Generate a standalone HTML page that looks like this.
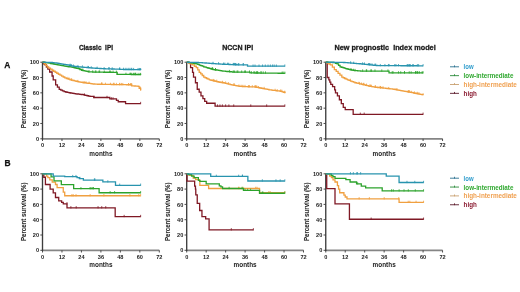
<!DOCTYPE html>
<html><head><meta charset="utf-8"><style>
html,body{margin:0;padding:0;background:#fff;}
svg{display:block;filter:blur(0.3px);}
text{font-family:"Liberation Sans", sans-serif;}
.tl{font-size:5.6px;font-weight:bold;fill:#222;}
.ml{font-size:6.4px;font-weight:bold;fill:#222;}
.yl{font-size:6.3px;font-weight:bold;fill:#2a2a2a;stroke:#2a2a2a;stroke-width:0.1px;}
.tt{font-size:7.5px;font-weight:bold;fill:#1a1a1a;stroke:#1a1a1a;stroke-width:0.3px;}
.pl{font-size:8.4px;font-weight:bold;fill:#111;stroke:#111;stroke-width:0.25px;}
.lg{font-size:6.4px;font-weight:bold;}
</style></head><body>
<svg width="520" height="292" viewBox="0 0 520 292">
<rect width="520" height="292" fill="#fff"/>
<path d="M41.90,138.80 H159.30" fill="none" stroke="#858585" stroke-width="1.7"/>
<path d="M42.50,61.90 V139.50" fill="none" stroke="#3e3e3e" stroke-width="1.35"/>
<path d="M42.50,138.80 h-2.2 M42.50,123.48 h-2.2 M42.50,108.16 h-2.2 M42.50,92.84 h-2.2 M42.50,77.52 h-2.2 M42.50,62.20 h-2.2 M42.50,138.80 v2.2 M61.97,138.80 v2.2 M81.43,138.80 v2.2 M100.90,138.80 v2.2 M120.37,138.80 v2.2 M139.83,138.80 v2.2 M159.30,138.80 v2.2" stroke="#3a3a3a" stroke-width="0.9"/>
<text x="39.10" y="140.90" class="tl" text-anchor="end">0</text>
<text x="39.10" y="125.58" class="tl" text-anchor="end">20</text>
<text x="39.10" y="110.26" class="tl" text-anchor="end">40</text>
<text x="39.10" y="94.94" class="tl" text-anchor="end">60</text>
<text x="39.10" y="79.62" class="tl" text-anchor="end">80</text>
<text x="39.10" y="64.30" class="tl" text-anchor="end">100</text>
<text x="42.50" y="147.00" class="tl" text-anchor="middle">0</text>
<text x="61.97" y="147.00" class="tl" text-anchor="middle">12</text>
<text x="81.43" y="147.00" class="tl" text-anchor="middle">24</text>
<text x="100.90" y="147.00" class="tl" text-anchor="middle">36</text>
<text x="120.37" y="147.00" class="tl" text-anchor="middle">48</text>
<text x="139.83" y="147.00" class="tl" text-anchor="middle">60</text>
<text x="159.30" y="147.00" class="tl" text-anchor="middle">72</text>
<text x="100.90" y="155.90" class="ml" text-anchor="middle">months</text>
<text transform="translate(25.60,98.90) rotate(-90)" class="yl" text-anchor="middle" textLength="58.6" lengthAdjust="spacingAndGlyphs">Percent survival (%)</text>
<path d="M42.50,62.20 L43.64,62.20 L43.64,63.73 L44.93,63.73 L44.93,64.88 L46.39,64.88 L46.39,66.99 L47.85,66.99 L47.85,69.09 L49.64,69.09 L49.64,72.00 L52.07,72.00 L52.07,75.99 L53.21,75.99 L53.21,79.82 L55.64,79.82 L55.64,84.80 L57.42,84.80 L57.42,87.09 L59.21,87.09 L59.21,89.39 L60.83,89.39 L60.83,90.16 L62.45,90.16 L62.45,90.93 L64.08,90.93 L64.08,91.69 L65.58,91.69 L65.58,92.02 L67.08,92.02 L67.08,92.34 L68.58,92.34 L68.58,92.67 L70.08,92.67 L70.08,92.99 L71.46,92.99 L71.46,93.20 L72.84,93.20 L72.84,93.41 L74.21,93.41 L74.21,93.63 L75.59,93.63 L75.59,93.84 L77.02,93.84 L77.02,94.00 L78.45,94.00 L78.45,94.17 L79.88,94.17 L79.88,94.34 L81.30,94.34 L81.30,94.51 L82.73,94.51 L82.73,94.68 L84.19,94.68 L84.19,95.03 L85.65,95.03 L85.65,95.38 L87.11,95.38 L87.11,95.74 L88.57,95.74 L88.57,96.09 L90.03,96.09 L90.03,96.44 L93.76,96.44 L93.76,96.44 L93.76,96.44 L93.76,97.51 L109.82,97.51 L109.82,97.51 L109.82,97.51 L109.82,98.89 L116.47,98.89 L116.47,98.89 L116.47,98.89 L116.47,100.42 L118.26,100.42 L118.26,100.42 L118.26,100.42 L118.26,101.73 L125.23,101.73 L125.23,101.73 L125.56,101.73 L125.56,103.56 L140.64,103.56 L140.64,103.56" fill="none" stroke="#7f1824" stroke-width="1.3"/><path d="M84.40,95.63 v-2.3 M107.00,98.11 v-2.3 M94.14,98.11 v-2.3 M111.41,99.49 v-2.3 M113.02,99.49 v-2.3 M140.64,104.16 v-2.3" stroke="#7f1824" stroke-width="0.8"/>
<path d="M42.50,62.20 L44.12,62.20 L44.12,63.73 L45.66,63.73 L45.66,65.46 L47.20,65.46 L47.20,67.18 L48.83,67.18 L48.83,68.20 L50.45,68.20 L50.45,69.22 L52.07,69.22 L52.07,70.24 L53.64,70.24 L53.64,71.24 L55.21,71.24 L55.21,72.23 L56.78,72.23 L56.78,73.23 L58.40,73.23 L58.40,74.23 L60.02,74.23 L60.02,75.22 L61.64,75.22 L61.64,76.22 L63.21,76.22 L63.21,77.01 L64.78,77.01 L64.78,77.80 L66.35,77.80 L66.35,78.59 L68.21,78.59 L68.21,79.21 L70.08,79.21 L70.08,79.82 L71.54,79.82 L71.54,80.17 L73.00,80.17 L73.00,80.52 L74.46,80.52 L74.46,80.88 L75.92,80.88 L75.92,81.23 L77.38,81.23 L77.38,81.58 L78.68,81.58 L78.68,81.81 L79.97,81.81 L79.97,82.04 L81.27,82.04 L81.27,82.27 L82.57,82.27 L82.57,82.50 L83.87,82.50 L83.87,82.73 L85.23,82.73 L85.23,82.91 L86.58,82.91 L86.58,83.09 L87.94,83.09 L87.94,83.27 L89.30,83.27 L89.30,83.46 L90.66,83.46 L90.66,83.64 L92.02,83.64 L92.02,83.82 L93.38,83.82 L93.38,84.00 L94.74,84.00 L94.74,84.18 L96.14,84.18 L96.14,84.21 L97.55,84.21 L97.55,84.24 L98.95,84.24 L98.95,84.26 L100.36,84.26 L100.36,84.29 L101.77,84.29 L101.77,84.31 L103.17,84.31 L103.17,84.34 L104.58,84.34 L104.58,84.36 L105.98,84.36 L105.98,84.39 L107.39,84.39 L107.39,84.41 L108.75,84.41 L108.75,84.44 L110.12,84.44 L110.12,84.46 L111.48,84.46 L111.48,84.48 L112.85,84.48 L112.85,84.50 L114.21,84.50 L114.21,84.53 L115.58,84.53 L115.58,84.55 L116.94,84.55 L116.94,84.57 L118.31,84.57 L118.31,84.59 L119.67,84.59 L119.67,84.62 L121.03,84.62 L121.03,84.64 L122.40,84.64 L122.40,84.66 L123.76,84.66 L123.76,84.68 L125.13,84.68 L125.13,84.71 L126.49,84.71 L126.49,84.73 L127.86,84.73 L127.86,84.75 L129.22,84.75 L129.22,84.77 L130.59,84.77 L130.59,84.80 L131.72,84.80 L131.72,85.79 L133.02,85.79 L133.02,85.90 L134.32,85.90 L134.32,86.01 L135.62,86.01 L135.62,86.11 L136.91,86.11 L136.91,86.22 L138.21,86.22 L138.21,86.33 L139.18,86.33 L139.18,88.24 L140.64,88.24 L140.64,90.16" fill="none" stroke="#f0a040" stroke-width="1.3"/><path d="M71.67,80.77 v-2.3 M67.81,79.19 v-2.3 M128.65,85.35 v-2.3 M85.98,83.51 v-2.3 M84.13,83.33 v-2.3 M140.32,88.84 v-2.3 M101.54,84.89 v-2.3 M128.57,85.35 v-2.3 M101.99,84.91 v-2.3 M114.00,85.10 v-2.3 M77.95,82.18 v-2.3 M113.69,85.10 v-2.3 M130.90,85.40 v-2.3 M105.45,84.96 v-2.3 M121.55,85.24 v-2.3 M116.39,85.15 v-2.3 M71.56,80.77 v-2.3 M122.80,85.26 v-2.3 M110.46,85.06 v-2.3 M89.07,83.87 v-2.3 M69.12,79.81 v-2.3 M130.72,85.40 v-2.3 M101.73,84.89 v-2.3 M119.89,85.22 v-2.3 M131.70,85.40 v-2.3 M119.54,85.19 v-2.3 M140.64,90.76 v-2.3" stroke="#f0a040" stroke-width="0.8"/>
<path d="M42.50,62.20 L44.12,62.20 L44.12,62.46 L45.74,62.46 L45.74,62.71 L47.37,62.71 L47.37,62.97 L48.99,62.97 L48.99,63.22 L50.61,63.22 L50.61,63.48 L52.23,63.48 L52.23,63.73 L53.62,63.73 L53.62,64.01 L55.01,64.01 L55.01,64.28 L56.40,64.28 L56.40,64.55 L57.80,64.55 L57.80,64.83 L59.19,64.83 L59.19,65.10 L60.58,65.10 L60.58,65.37 L61.97,65.37 L61.97,65.65 L63.33,65.65 L63.33,65.87 L64.68,65.87 L64.68,66.09 L66.04,66.09 L66.04,66.31 L67.40,66.31 L67.40,66.53 L68.76,66.53 L68.76,66.75 L70.12,66.75 L70.12,66.97 L71.48,66.97 L71.48,67.19 L72.84,67.19 L72.84,67.41 L74.17,67.41 L74.17,67.73 L75.51,67.73 L75.51,68.06 L76.85,68.06 L76.85,68.39 L78.19,68.39 L78.19,68.71 L79.89,68.71 L79.89,69.48 L81.60,69.48 L81.60,70.24 L82.93,70.24 L82.93,70.55 L84.26,70.55 L84.26,70.86 L85.59,70.86 L85.59,71.16 L86.92,71.16 L86.92,71.47 L88.25,71.47 L88.25,71.78 L89.79,71.78 L89.79,71.87 L91.33,71.87 L91.33,71.97 L92.87,71.97 L92.87,72.06 L94.41,72.06 L94.41,72.16 L95.73,72.16 L95.73,72.17 L97.05,72.17 L97.05,72.18 L98.37,72.18 L98.37,72.19 L99.68,72.19 L99.68,72.20 L101.00,72.20 L101.00,72.21 L102.32,72.21 L102.32,72.22 L103.64,72.22 L103.64,72.23 L104.96,72.23 L104.96,72.23 L106.27,72.23 L106.27,72.24 L107.59,72.24 L107.59,72.25 L108.91,72.25 L108.91,72.26 L110.23,72.26 L110.23,72.27 L111.55,72.27 L111.55,72.28 L112.86,72.28 L112.86,72.29 L114.18,72.29 L114.18,72.30 L115.50,72.30 L115.50,72.31 L117.12,72.31 L117.12,74.30 L118.43,74.30 L118.43,74.32 L119.74,74.32 L119.74,74.34 L121.04,74.34 L121.04,74.35 L122.35,74.35 L122.35,74.37 L123.66,74.37 L123.66,74.39 L124.96,74.39 L124.96,74.40 L126.27,74.40 L126.27,74.42 L127.58,74.42 L127.58,74.44 L128.88,74.44 L128.88,74.46 L130.19,74.46 L130.19,74.47 L131.50,74.47 L131.50,74.49 L132.80,74.49 L132.80,74.51 L134.11,74.51 L134.11,74.52 L135.42,74.52 L135.42,74.54 L136.72,74.54 L136.72,74.56 L138.03,74.56 L138.03,74.58 L139.34,74.58 L139.34,74.59 L140.64,74.59 L140.64,74.61" fill="none" stroke="#2ca32c" stroke-width="1.3"/><path d="M134.82,75.12 v-2.3 M95.99,72.77 v-2.3 M125.95,75.00 v-2.3 M99.65,72.79 v-2.3 M135.89,75.14 v-2.3 M131.70,75.09 v-2.3 M74.03,68.01 v-2.3 M76.87,68.99 v-2.3 M82.85,70.84 v-2.3 M138.10,75.18 v-2.3 M99.03,72.79 v-2.3 M113.09,72.89 v-2.3 M89.05,72.38 v-2.3 M104.27,72.83 v-2.3 M95.31,72.76 v-2.3 M92.73,72.57 v-2.3 M110.02,72.86 v-2.3 M109.96,72.86 v-2.3 M133.57,75.11 v-2.3 M117.17,74.90 v-2.3 M135.40,75.12 v-2.3 M130.05,75.06 v-2.3 M139.98,75.19 v-2.3 M116.38,72.91 v-2.3 M78.87,69.31 v-2.3 M130.36,75.07 v-2.3 M140.64,75.21 v-2.3" stroke="#2ca32c" stroke-width="0.8"/>
<path d="M42.50,62.20 L43.85,62.20 L43.85,62.24 L45.20,62.24 L45.20,62.28 L46.56,62.28 L46.56,62.31 L47.91,62.31 L47.91,62.35 L49.26,62.35 L49.26,62.39 L50.61,62.39 L50.61,62.43 L52.23,62.43 L52.23,62.61 L53.86,62.61 L53.86,62.79 L55.48,62.79 L55.48,62.97 L56.78,62.97 L56.78,63.18 L58.07,63.18 L58.07,63.39 L59.37,63.39 L59.37,63.61 L60.67,63.61 L60.67,63.82 L61.97,63.82 L61.97,64.04 L63.59,64.04 L63.59,64.32 L65.21,64.32 L65.21,64.60 L66.83,64.60 L66.83,64.88 L68.33,64.88 L68.33,65.21 L69.83,65.21 L69.83,65.53 L71.33,65.53 L71.33,65.86 L72.84,65.86 L72.84,66.18 L74.17,66.18 L74.17,66.34 L75.51,66.34 L75.51,66.49 L76.85,66.49 L76.85,66.64 L78.19,66.64 L78.19,66.80 L79.61,66.80 L79.61,66.93 L81.03,66.93 L81.03,67.06 L82.45,67.06 L82.45,67.20 L83.87,67.20 L83.87,67.33 L85.33,67.33 L85.33,67.45 L86.79,67.45 L86.79,67.58 L88.25,67.58 L88.25,67.70 L89.71,67.70 L89.71,67.82 L91.17,67.82 L91.17,67.95 L92.59,67.95 L92.59,68.04 L94.01,68.04 L94.01,68.14 L95.42,68.14 L95.42,68.23 L96.84,68.23 L96.84,68.33 L98.26,68.33 L98.26,68.42 L99.68,68.42 L99.68,68.52 L101.10,68.52 L101.10,68.62 L102.52,68.62 L102.52,68.71 L103.82,68.71 L103.82,68.75 L105.12,68.75 L105.12,68.79 L106.42,68.79 L106.42,68.83 L107.71,68.83 L107.71,68.86 L109.01,68.86 L109.01,68.90 L110.31,68.90 L110.31,68.94 L111.61,68.94 L111.61,68.98 L112.90,68.98 L112.90,69.02 L114.20,69.02 L114.20,69.06 L115.50,69.06 L115.50,69.09 L116.85,69.09 L116.85,69.16 L118.20,69.16 L118.20,69.22 L119.56,69.22 L119.56,69.29 L120.91,69.29 L120.91,69.35 L122.26,69.35 L122.26,69.41 L123.61,69.41 L123.61,69.48 L124.92,69.48 L124.92,69.49 L126.23,69.49 L126.23,69.51 L127.54,69.51 L127.54,69.53 L128.85,69.53 L128.85,69.55 L130.16,69.55 L130.16,69.57 L131.47,69.57 L131.47,69.58 L132.78,69.58 L132.78,69.60 L134.09,69.60 L134.09,69.62 L135.40,69.62 L135.40,69.64 L136.71,69.64 L136.71,69.65 L138.02,69.65 L138.02,69.67 L139.33,69.67 L139.33,69.69 L140.64,69.69 L140.64,69.71" fill="none" stroke="#2894ae" stroke-width="1.3"/><path d="M138.03,70.27 v-2.3 M133.61,70.20 v-2.3 M108.84,69.46 v-2.3 M119.52,69.82 v-2.3 M82.42,67.66 v-2.3 M128.22,70.13 v-2.3 M109.17,69.50 v-2.3 M87.87,68.18 v-2.3 M71.52,66.46 v-2.3 M129.86,70.15 v-2.3 M139.89,70.29 v-2.3 M73.37,66.78 v-2.3 M125.93,70.09 v-2.3 M97.13,68.93 v-2.3 M77.96,67.24 v-2.3 M88.53,68.30 v-2.3 M123.58,70.01 v-2.3 M131.25,70.17 v-2.3 M70.10,66.13 v-2.3 M112.19,69.58 v-2.3 M70.15,66.13 v-2.3 M119.86,69.89 v-2.3 M91.26,68.55 v-2.3 M131.85,70.18 v-2.3 M139.22,70.27 v-2.3 M104.14,69.35 v-2.3 M140.64,70.31 v-2.3" stroke="#2894ae" stroke-width="0.8"/>
<path d="M186.10,138.80 H303.50" fill="none" stroke="#858585" stroke-width="1.7"/>
<path d="M186.70,61.90 V139.50" fill="none" stroke="#3e3e3e" stroke-width="1.35"/>
<path d="M186.70,138.80 h-2.2 M186.70,123.48 h-2.2 M186.70,108.16 h-2.2 M186.70,92.84 h-2.2 M186.70,77.52 h-2.2 M186.70,62.20 h-2.2 M186.70,138.80 v2.2 M206.17,138.80 v2.2 M225.63,138.80 v2.2 M245.10,138.80 v2.2 M264.57,138.80 v2.2 M284.03,138.80 v2.2 M303.50,138.80 v2.2" stroke="#3a3a3a" stroke-width="0.9"/>
<text x="183.30" y="140.90" class="tl" text-anchor="end">0</text>
<text x="183.30" y="125.58" class="tl" text-anchor="end">20</text>
<text x="183.30" y="110.26" class="tl" text-anchor="end">40</text>
<text x="183.30" y="94.94" class="tl" text-anchor="end">60</text>
<text x="183.30" y="79.62" class="tl" text-anchor="end">80</text>
<text x="183.30" y="64.30" class="tl" text-anchor="end">100</text>
<text x="186.70" y="147.00" class="tl" text-anchor="middle">0</text>
<text x="206.17" y="147.00" class="tl" text-anchor="middle">12</text>
<text x="225.63" y="147.00" class="tl" text-anchor="middle">24</text>
<text x="245.10" y="147.00" class="tl" text-anchor="middle">36</text>
<text x="264.57" y="147.00" class="tl" text-anchor="middle">48</text>
<text x="284.03" y="147.00" class="tl" text-anchor="middle">60</text>
<text x="303.50" y="147.00" class="tl" text-anchor="middle">72</text>
<text x="245.10" y="155.90" class="ml" text-anchor="middle">months</text>
<text transform="translate(169.80,98.90) rotate(-90)" class="yl" text-anchor="middle" textLength="58.6" lengthAdjust="spacingAndGlyphs">Percent survival (%)</text>
<path d="M186.70,62.20 L188.81,62.20 L188.81,62.97 L190.59,62.97 L190.59,67.64 L192.54,67.64 L192.54,72.31 L193.51,72.31 L193.51,77.06 L195.46,77.06 L195.46,82.73 L197.24,82.73 L197.24,89.24 L199.19,89.24 L199.19,92.07 L200.98,92.07 L200.98,95.83 L202.92,95.83 L202.92,98.59 L204.71,98.59 L204.71,101.42 L206.65,101.42 L206.65,103.26 L213.14,103.26 L213.14,103.26 L215.09,103.26 L215.09,106.09 L284.84,106.09 L284.84,106.09" fill="none" stroke="#7f1824" stroke-width="1.3"/><path d="M217.52,106.69 v-2.3 M219.96,106.69 v-2.3 M222.39,106.69 v-2.3 M225.63,106.69 v-2.3 M228.88,106.69 v-2.3 M233.74,106.69 v-2.3 M250.78,106.69 v-2.3 M266.68,106.69 v-2.3 M284.84,106.69 v-2.3" stroke="#7f1824" stroke-width="0.8"/>
<path d="M186.70,62.20 L188.16,62.20 L188.16,62.87 L189.62,62.87 L189.62,63.54 L191.08,63.54 L191.08,64.21 L192.54,64.21 L192.54,64.88 L194.41,64.88 L194.41,66.26 L196.27,66.26 L196.27,67.64 L197.73,67.64 L197.73,69.97 L199.19,69.97 L199.19,72.31 L200.71,72.31 L200.71,73.89 L202.22,73.89 L202.22,75.48 L203.73,75.48 L203.73,77.06 L205.15,77.06 L205.15,77.77 L206.57,77.77 L206.57,78.48 L207.99,78.48 L207.99,79.19 L209.41,79.19 L209.41,79.89 L210.94,79.89 L210.94,80.26 L212.46,80.26 L212.46,80.63 L213.99,80.63 L213.99,81.00 L215.51,81.00 L215.51,81.37 L217.04,81.37 L217.04,81.73 L218.45,81.73 L218.45,81.98 L219.87,81.98 L219.87,82.23 L221.29,82.23 L221.29,82.48 L222.71,82.48 L222.71,82.73 L224.21,82.73 L224.21,83.10 L225.70,83.10 L225.70,83.46 L227.19,83.46 L227.19,83.83 L228.68,83.83 L228.68,84.20 L230.18,84.20 L230.18,84.57 L231.52,84.57 L231.52,84.83 L232.86,84.83 L232.86,85.09 L234.21,85.09 L234.21,85.36 L235.55,85.36 L235.55,85.62 L236.90,85.62 L236.90,85.88 L238.24,85.88 L238.24,86.14 L239.58,86.14 L239.58,86.41 L241.01,86.41 L241.01,86.46 L242.44,86.46 L242.44,86.51 L243.87,86.51 L243.87,86.57 L245.29,86.57 L245.29,86.62 L246.72,86.62 L246.72,86.67 L248.15,86.67 L248.15,86.73 L249.58,86.73 L249.58,86.78 L251.00,86.78 L251.00,86.83 L252.43,86.83 L252.43,86.89 L253.86,86.89 L253.86,86.94 L255.35,86.94 L255.35,87.20 L256.84,87.20 L256.84,87.46 L258.34,87.46 L258.34,87.72 L259.83,87.72 L259.83,87.98 L261.32,87.98 L261.32,88.24 L262.85,88.24 L262.85,88.55 L264.37,88.55 L264.37,88.86 L265.90,88.86 L265.90,89.16 L267.42,89.16 L267.42,89.47 L268.95,89.47 L268.95,89.78 L270.26,89.78 L270.26,89.95 L271.58,89.95 L271.58,90.12 L272.89,90.12 L272.89,90.29 L274.21,90.29 L274.21,90.46 L275.53,90.46 L275.53,90.63 L276.84,90.63 L276.84,90.80 L278.16,90.80 L278.16,90.97 L279.47,90.97 L279.47,91.14 L280.79,91.14 L280.79,91.31 L282.14,91.31 L282.14,91.84 L283.49,91.84 L283.49,92.38 L284.84,92.38 L284.84,92.92" fill="none" stroke="#f0a040" stroke-width="1.3"/><path d="M284.73,92.98 v-2.3 M233.89,85.69 v-2.3 M216.71,81.97 v-2.3 M255.30,87.54 v-2.3 M213.35,81.23 v-2.3 M225.60,83.70 v-2.3 M241.14,87.06 v-2.3 M256.09,87.80 v-2.3 M222.56,83.08 v-2.3 M214.17,81.60 v-2.3 M275.09,91.06 v-2.3 M234.20,85.69 v-2.3 M281.79,91.91 v-2.3 M277.22,91.40 v-2.3 M238.92,86.74 v-2.3 M245.02,87.17 v-2.3 M249.42,87.33 v-2.3 M258.56,88.32 v-2.3 M255.00,87.54 v-2.3 M252.31,87.43 v-2.3 M256.81,87.80 v-2.3 M280.46,91.74 v-2.3 M248.46,87.33 v-2.3 M242.86,87.11 v-2.3 M264.20,89.15 v-2.3 M228.57,84.43 v-2.3 M284.84,93.52 v-2.3" stroke="#f0a040" stroke-width="0.8"/>
<path d="M186.70,62.20 L188.07,62.20 L188.07,62.44 L189.43,62.44 L189.43,62.68 L190.80,62.68 L190.80,62.92 L192.17,62.92 L192.17,63.16 L193.54,63.16 L193.54,63.40 L194.90,63.40 L194.90,63.64 L196.27,63.64 L196.27,63.89 L197.76,63.89 L197.76,64.47 L199.26,64.47 L199.26,65.05 L200.75,65.05 L200.75,65.63 L202.24,65.63 L202.24,66.21 L203.73,66.21 L203.73,66.80 L205.08,66.80 L205.08,67.19 L206.42,67.19 L206.42,67.58 L207.77,67.58 L207.77,67.98 L209.11,67.98 L209.11,68.37 L210.45,68.37 L210.45,68.77 L211.80,68.77 L211.80,69.16 L213.14,69.16 L213.14,69.55 L214.51,69.55 L214.51,69.77 L215.88,69.77 L215.88,69.99 L217.24,69.99 L217.24,70.21 L218.61,70.21 L218.61,70.43 L219.98,70.43 L219.98,70.65 L221.35,70.65 L221.35,70.87 L222.71,70.87 L222.71,71.09 L224.13,71.09 L224.13,71.22 L225.55,71.22 L225.55,71.35 L226.97,71.35 L226.97,71.49 L228.39,71.49 L228.39,71.62 L229.81,71.62 L229.81,71.76 L231.23,71.76 L231.23,71.89 L232.65,71.89 L232.65,72.02 L234.07,72.02 L234.07,72.16 L249.16,72.16 L249.16,72.16 L249.97,72.16 L249.97,72.92 L251.31,72.92 L251.31,72.94 L252.65,72.94 L252.65,72.95 L253.99,72.95 L253.99,72.97 L255.33,72.97 L255.33,72.98 L256.67,72.98 L256.67,73.00 L258.02,73.00 L258.02,73.01 L259.36,73.01 L259.36,73.03 L260.70,73.03 L260.70,73.04 L262.04,73.04 L262.04,73.06 L263.38,73.06 L263.38,73.07 L264.72,73.07 L264.72,73.09 L266.06,73.09 L266.06,73.10 L267.41,73.10 L267.41,73.12 L268.75,73.12 L268.75,73.13 L270.09,73.13 L270.09,73.14 L271.43,73.14 L271.43,73.16 L272.77,73.16 L272.77,73.17 L274.11,73.17 L274.11,73.19 L275.45,73.19 L275.45,73.20 L276.80,73.20 L276.80,73.22 L278.14,73.22 L278.14,73.23 L279.48,73.23 L279.48,73.25 L280.82,73.25 L280.82,73.26 L282.16,73.26 L282.16,73.28 L283.50,73.28 L283.50,73.29 L284.84,73.29 L284.84,73.31" fill="none" stroke="#2ca32c" stroke-width="1.3"/><path d="M233.26,72.62 v-2.3 M283.21,73.88 v-2.3 M249.50,72.76 v-2.3 M251.51,73.54 v-2.3 M211.88,69.76 v-2.3 M241.68,72.76 v-2.3 M253.84,73.55 v-2.3 M212.51,69.76 v-2.3 M256.49,73.58 v-2.3 M257.70,73.60 v-2.3 M215.47,70.37 v-2.3 M257.34,73.60 v-2.3 M245.45,72.76 v-2.3 M261.17,73.64 v-2.3 M237.06,72.76 v-2.3 M263.21,73.66 v-2.3 M265.51,73.69 v-2.3 M212.67,69.76 v-2.3 M215.50,70.37 v-2.3 M260.93,73.64 v-2.3 M282.14,73.86 v-2.3 M229.57,72.22 v-2.3 M244.71,72.76 v-2.3 M254.78,73.57 v-2.3 M234.65,72.76 v-2.3 M237.90,72.76 v-2.3 M284.84,73.91 v-2.3" stroke="#2ca32c" stroke-width="0.8"/>
<path d="M186.70,62.20 L188.00,62.20 L188.00,62.24 L189.30,62.24 L189.30,62.28 L190.59,62.28 L190.59,62.31 L191.89,62.31 L191.89,62.35 L193.19,62.35 L193.19,62.39 L194.49,62.39 L194.49,62.43 L195.78,62.43 L195.78,62.47 L197.08,62.47 L197.08,62.51 L198.38,62.51 L198.38,62.54 L199.68,62.54 L199.68,62.58 L201.02,62.58 L201.02,62.68 L202.37,62.68 L202.37,62.78 L203.72,62.78 L203.72,62.88 L205.06,62.88 L205.06,62.98 L206.41,62.98 L206.41,63.08 L207.76,63.08 L207.76,63.18 L209.10,63.18 L209.10,63.28 L210.45,63.28 L210.45,63.38 L211.80,63.38 L211.80,63.48 L213.14,63.48 L213.14,63.58 L214.51,63.58 L214.51,63.68 L215.88,63.68 L215.88,63.78 L217.24,63.78 L217.24,63.87 L218.61,63.87 L218.61,63.97 L219.98,63.97 L219.98,64.07 L221.35,64.07 L221.35,64.17 L222.71,64.17 L222.71,64.27 L224.01,64.27 L224.01,64.32 L225.31,64.32 L225.31,64.36 L226.61,64.36 L226.61,64.41 L227.90,64.41 L227.90,64.46 L229.20,64.46 L229.20,64.50 L230.50,64.50 L230.50,64.55 L231.80,64.55 L231.80,64.60 L233.10,64.60 L233.10,64.65 L234.39,64.65 L234.39,64.69 L235.69,64.69 L235.69,64.74 L236.99,64.74 L236.99,64.79 L238.29,64.79 L238.29,64.83 L239.58,64.83 L239.58,64.88 L247.21,64.88 L247.21,64.88 L247.53,64.88 L247.53,66.18 L284.84,66.18 L284.84,66.18" fill="none" stroke="#2894ae" stroke-width="1.3"/><path d="M234.11,65.25 v-2.3 M238.28,65.39 v-2.3 M255.00,66.78 v-2.3 M233.21,65.25 v-2.3 M238.87,65.43 v-2.3 M268.04,66.78 v-2.3 M213.02,64.08 v-2.3 M253.05,66.78 v-2.3 M265.30,66.78 v-2.3 M233.92,65.25 v-2.3 M227.46,65.01 v-2.3 M270.36,66.78 v-2.3 M228.65,65.06 v-2.3 M224.87,64.92 v-2.3 M243.16,65.48 v-2.3 M262.56,66.78 v-2.3 M218.55,64.47 v-2.3 M234.80,65.29 v-2.3 M235.67,65.29 v-2.3 M272.56,66.78 v-2.3 M243.39,65.48 v-2.3 M274.18,66.78 v-2.3 M223.53,64.87 v-2.3 M235.89,65.34 v-2.3 M259.03,66.78 v-2.3 M276.35,66.78 v-2.3 M284.84,66.78 v-2.3" stroke="#2894ae" stroke-width="0.8"/>
<path d="M325.15,138.80 H442.55" fill="none" stroke="#858585" stroke-width="1.7"/>
<path d="M325.75,61.90 V139.50" fill="none" stroke="#3e3e3e" stroke-width="1.35"/>
<path d="M325.75,138.80 h-2.2 M325.75,123.48 h-2.2 M325.75,108.16 h-2.2 M325.75,92.84 h-2.2 M325.75,77.52 h-2.2 M325.75,62.20 h-2.2 M325.75,138.80 v2.2 M345.22,138.80 v2.2 M364.68,138.80 v2.2 M384.15,138.80 v2.2 M403.62,138.80 v2.2 M423.08,138.80 v2.2 M442.55,138.80 v2.2" stroke="#3a3a3a" stroke-width="0.9"/>
<text x="322.35" y="140.90" class="tl" text-anchor="end">0</text>
<text x="322.35" y="125.58" class="tl" text-anchor="end">20</text>
<text x="322.35" y="110.26" class="tl" text-anchor="end">40</text>
<text x="322.35" y="94.94" class="tl" text-anchor="end">60</text>
<text x="322.35" y="79.62" class="tl" text-anchor="end">80</text>
<text x="322.35" y="64.30" class="tl" text-anchor="end">100</text>
<text x="325.75" y="147.00" class="tl" text-anchor="middle">0</text>
<text x="345.22" y="147.00" class="tl" text-anchor="middle">12</text>
<text x="364.68" y="147.00" class="tl" text-anchor="middle">24</text>
<text x="384.15" y="147.00" class="tl" text-anchor="middle">36</text>
<text x="403.62" y="147.00" class="tl" text-anchor="middle">48</text>
<text x="423.08" y="147.00" class="tl" text-anchor="middle">60</text>
<text x="442.55" y="147.00" class="tl" text-anchor="middle">72</text>
<text x="384.15" y="155.90" class="ml" text-anchor="middle">months</text>
<text transform="translate(308.85,98.90) rotate(-90)" class="yl" text-anchor="middle" textLength="58.6" lengthAdjust="spacingAndGlyphs">Percent survival (%)</text>
<path d="M325.75,62.20 L327.21,62.20 L327.21,62.20 L327.21,62.20 L327.21,77.52 L328.83,77.52 L328.83,77.52 L328.83,77.52 L328.83,79.82 L329.81,79.82 L329.81,79.82 L329.81,79.82 L329.81,82.12 L330.78,82.12 L330.78,82.12 L330.78,82.12 L330.78,84.41 L332.56,84.41 L332.56,84.41 L332.56,84.41 L332.56,86.71 L334.67,86.71 L334.67,86.71 L334.67,86.71 L334.67,89.78 L335.48,89.78 L335.48,89.78 L335.48,89.78 L335.48,92.84 L337.43,92.84 L337.43,92.84 L337.43,92.84 L337.43,95.90 L339.38,95.90 L339.38,95.90 L339.38,95.90 L339.38,99.73 L341.32,99.73 L341.32,99.73 L341.32,99.73 L341.32,103.56 L343.27,103.56 L343.27,103.56 L343.27,103.56 L343.27,107.39 L345.22,107.39 L345.22,107.39 L345.22,107.39 L345.22,109.69 L353.17,109.69 L353.17,109.69 L353.17,109.69 L353.17,114.29 L423.08,114.29 L423.08,114.29" fill="none" stroke="#7f1824" stroke-width="1.3"/><path d="M360.30,114.89 v-2.3 M364.20,114.89 v-2.3 M423.08,114.89 v-2.3" stroke="#7f1824" stroke-width="0.8"/>
<path d="M325.75,62.20 L327.32,62.20 L327.32,63.09 L328.89,63.09 L328.89,63.99 L330.45,63.99 L330.45,64.88 L332.40,64.88 L332.40,67.22 L334.35,67.22 L334.35,69.55 L336.21,69.55 L336.21,71.43 L338.08,71.43 L338.08,73.31 L339.94,73.31 L339.94,75.18 L341.81,75.18 L341.81,77.06 L343.23,77.06 L343.23,77.77 L344.65,77.77 L344.65,78.48 L346.07,78.48 L346.07,79.19 L347.49,79.19 L347.49,79.89 L348.98,79.89 L348.98,80.46 L350.47,80.46 L350.47,81.03 L351.97,81.03 L351.97,81.60 L353.46,81.60 L353.46,82.16 L354.95,82.16 L354.95,82.73 L356.47,82.73 L356.47,83.10 L358.00,83.10 L358.00,83.46 L359.52,83.46 L359.52,83.83 L361.05,83.83 L361.05,84.20 L362.57,84.20 L362.57,84.57 L364.07,84.57 L364.07,84.93 L365.56,84.93 L365.56,85.30 L367.05,85.30 L367.05,85.67 L368.54,85.67 L368.54,86.04 L370.04,86.04 L370.04,86.41 L371.56,86.41 L371.56,86.62 L373.09,86.62 L373.09,86.83 L374.61,86.83 L374.61,87.05 L376.14,87.05 L376.14,87.26 L377.66,87.26 L377.66,87.48 L379.01,87.48 L379.01,87.62 L380.36,87.62 L380.36,87.77 L381.72,87.77 L381.72,87.92 L383.07,87.92 L383.07,88.07 L384.42,88.07 L384.42,88.21 L385.77,88.21 L385.77,88.36 L387.12,88.36 L387.12,88.51 L388.48,88.51 L388.48,88.65 L389.83,88.65 L389.83,88.80 L391.18,88.80 L391.18,88.95 L392.53,88.95 L392.53,89.09 L393.88,89.09 L393.88,89.24 L395.23,89.24 L395.23,89.51 L396.57,89.51 L396.57,89.79 L397.92,89.79 L397.92,90.06 L399.26,90.06 L399.26,90.33 L400.60,90.33 L400.60,90.61 L401.95,90.61 L401.95,90.88 L403.29,90.88 L403.29,91.15 L404.78,91.15 L404.78,91.42 L406.28,91.42 L406.28,91.68 L407.77,91.68 L407.77,91.94 L409.26,91.94 L409.26,92.20 L410.75,92.20 L410.75,92.46 L412.12,92.46 L412.12,92.72 L413.49,92.72 L413.49,92.98 L414.86,92.98 L414.86,93.25 L416.23,93.25 L416.23,93.51 L417.60,93.51 L417.60,93.78 L418.97,93.78 L418.97,94.04 L420.34,94.04 L420.34,94.30 L421.71,94.30 L421.71,94.57 L423.08,94.57 L423.08,94.83" fill="none" stroke="#f0a040" stroke-width="1.3"/><path d="M383.01,88.52 v-2.3 M366.51,85.90 v-2.3 M358.91,84.06 v-2.3 M388.75,89.25 v-2.3 M364.01,85.17 v-2.3 M408.98,92.54 v-2.3 M411.29,93.06 v-2.3 M363.49,85.17 v-2.3 M370.42,87.01 v-2.3 M409.01,92.54 v-2.3 M396.94,90.39 v-2.3 M408.94,92.54 v-2.3 M375.29,87.65 v-2.3 M359.55,84.43 v-2.3 M371.40,87.01 v-2.3 M408.04,92.54 v-2.3 M369.88,86.64 v-2.3 M375.37,87.65 v-2.3 M380.52,88.37 v-2.3 M380.73,88.37 v-2.3 M379.98,88.22 v-2.3 M417.29,94.11 v-2.3 M361.47,84.80 v-2.3 M350.42,81.06 v-2.3 M418.94,94.38 v-2.3 M414.32,93.58 v-2.3 M423.08,95.43 v-2.3" stroke="#f0a040" stroke-width="0.8"/>
<path d="M325.75,62.20 L327.10,62.20 L327.10,62.26 L328.45,62.26 L328.45,62.33 L329.81,62.33 L329.81,62.39 L331.16,62.39 L331.16,62.46 L332.51,62.46 L332.51,62.52 L333.86,62.52 L333.86,62.58 L335.48,62.58 L335.48,63.23 L337.11,63.23 L337.11,63.89 L338.57,63.89 L338.57,65.34 L340.03,65.34 L340.03,66.80 L341.40,66.80 L341.40,67.26 L342.78,67.26 L342.78,67.72 L344.16,67.72 L344.16,68.17 L345.54,68.17 L345.54,68.63 L347.07,68.63 L347.07,69.00 L348.59,69.00 L348.59,69.37 L350.12,69.37 L350.12,69.74 L351.64,69.74 L351.64,70.11 L353.17,70.11 L353.17,70.47 L354.66,70.47 L354.66,70.60 L356.15,70.60 L356.15,70.72 L357.64,70.72 L357.64,70.84 L359.14,70.84 L359.14,70.96 L360.63,70.96 L360.63,71.09 L388.21,71.09 L388.21,71.09 L389.02,71.09 L389.02,72.92 L423.08,72.92 L423.08,72.92" fill="none" stroke="#2ca32c" stroke-width="1.3"/><path d="M422.13,73.52 v-2.3 M381.79,71.69 v-2.3 M419.45,73.52 v-2.3 M417.78,73.52 v-2.3 M366.30,71.69 v-2.3 M404.51,73.52 v-2.3 M411.16,73.52 v-2.3 M398.48,73.52 v-2.3 M387.97,71.69 v-2.3 M371.18,71.69 v-2.3 M374.98,71.69 v-2.3 M366.69,71.69 v-2.3 M355.05,71.20 v-2.3 M393.06,73.52 v-2.3 M371.04,71.69 v-2.3 M409.23,73.52 v-2.3 M353.37,71.07 v-2.3 M416.05,73.52 v-2.3 M400.72,73.52 v-2.3 M417.52,73.52 v-2.3 M415.53,73.52 v-2.3 M415.76,73.52 v-2.3 M392.20,73.52 v-2.3 M351.04,70.34 v-2.3 M404.49,73.52 v-2.3 M362.63,71.69 v-2.3 M423.08,73.52 v-2.3" stroke="#2ca32c" stroke-width="0.8"/>
<path d="M325.75,62.20 L327.10,62.20 L327.10,62.21 L328.45,62.21 L328.45,62.23 L329.81,62.23 L329.81,62.24 L331.16,62.24 L331.16,62.25 L332.51,62.25 L332.51,62.26 L333.86,62.26 L333.86,62.28 L335.21,62.28 L335.21,62.29 L336.56,62.29 L336.56,62.30 L337.92,62.30 L337.92,62.31 L339.27,62.31 L339.27,62.33 L340.62,62.33 L340.62,62.34 L341.97,62.34 L341.97,62.35 L343.46,62.35 L343.46,62.48 L344.96,62.48 L344.96,62.60 L346.45,62.60 L346.45,62.72 L347.94,62.72 L347.94,62.84 L349.43,62.84 L349.43,62.97 L350.83,62.97 L350.83,63.08 L352.23,63.08 L352.23,63.20 L353.63,63.20 L353.63,63.31 L355.03,63.31 L355.03,63.43 L356.43,63.43 L356.43,63.54 L357.83,63.54 L357.83,63.66 L359.23,63.66 L359.23,63.77 L360.63,63.77 L360.63,63.89 L361.94,63.89 L361.94,64.02 L363.25,64.02 L363.25,64.16 L364.56,64.16 L364.56,64.29 L365.87,64.29 L365.87,64.43 L367.18,64.43 L367.18,64.56 L368.49,64.56 L368.49,64.70 L369.80,64.70 L369.80,64.83 L371.11,64.83 L371.11,64.97 L372.42,64.97 L372.42,65.10 L373.73,65.10 L373.73,65.24 L375.04,65.24 L375.04,65.38 L376.35,65.38 L376.35,65.51 L377.66,65.51 L377.66,65.65 L378.96,65.65 L378.96,65.65 L380.26,65.65 L380.26,65.66 L381.55,65.66 L381.55,65.66 L382.85,65.66 L382.85,65.66 L384.15,65.66 L384.15,65.67 L385.45,65.67 L385.45,65.67 L386.75,65.67 L386.75,65.68 L388.04,65.68 L388.04,65.68 L389.34,65.68 L389.34,65.69 L390.64,65.69 L390.64,65.69 L391.94,65.69 L391.94,65.70 L393.23,65.70 L393.23,65.70 L394.53,65.70 L394.53,65.70 L395.83,65.70 L395.83,65.71 L397.13,65.71 L397.13,65.71 L398.43,65.71 L398.43,65.72 L399.72,65.72 L399.72,65.72 L401.02,65.72 L401.02,65.73 L402.32,65.73 L402.32,65.73 L403.62,65.73 L403.62,65.73 L404.91,65.73 L404.91,65.74 L406.21,65.74 L406.21,65.74 L407.51,65.74 L407.51,65.75 L408.81,65.75 L408.81,65.75 L410.11,65.75 L410.11,65.76 L411.40,65.76 L411.40,65.76 L412.70,65.76 L412.70,65.77 L414.00,65.77 L414.00,65.77 L415.30,65.77 L415.30,65.77 L416.59,65.77 L416.59,65.78 L417.89,65.78 L417.89,65.78 L419.19,65.78 L419.19,65.79 L420.49,65.79 L420.49,65.79 L421.79,65.79 L421.79,65.80 L423.08,65.80 L423.08,65.80" fill="none" stroke="#2894ae" stroke-width="1.3"/><path d="M371.98,65.57 v-2.3 M398.47,66.32 v-2.3 M388.41,66.28 v-2.3 M380.29,66.26 v-2.3 M418.63,66.38 v-2.3 M394.77,66.30 v-2.3 M375.00,65.84 v-2.3 M368.51,65.30 v-2.3 M412.98,66.37 v-2.3 M384.92,66.27 v-2.3 M407.19,66.34 v-2.3 M375.77,65.98 v-2.3 M364.49,64.76 v-2.3 M389.11,66.28 v-2.3 M409.71,66.35 v-2.3 M362.59,64.62 v-2.3 M407.88,66.35 v-2.3 M417.37,66.38 v-2.3 M408.93,66.35 v-2.3 M410.20,66.36 v-2.3 M350.63,63.57 v-2.3 M395.97,66.31 v-2.3 M413.05,66.37 v-2.3 M353.73,63.91 v-2.3 M369.90,65.43 v-2.3 M369.69,65.30 v-2.3 M423.08,66.40 v-2.3" stroke="#2894ae" stroke-width="0.8"/>
<path d="M41.90,250.30 H159.30" fill="none" stroke="#858585" stroke-width="1.7"/>
<path d="M42.50,173.50 V251.00" fill="none" stroke="#3e3e3e" stroke-width="1.35"/>
<path d="M42.50,250.30 h-2.2 M42.50,235.00 h-2.2 M42.50,219.70 h-2.2 M42.50,204.40 h-2.2 M42.50,189.10 h-2.2 M42.50,173.80 h-2.2 M42.50,250.30 v2.2 M61.97,250.30 v2.2 M81.43,250.30 v2.2 M100.90,250.30 v2.2 M120.37,250.30 v2.2 M139.83,250.30 v2.2 M159.30,250.30 v2.2" stroke="#3a3a3a" stroke-width="0.9"/>
<text x="39.10" y="252.40" class="tl" text-anchor="end">0</text>
<text x="39.10" y="237.10" class="tl" text-anchor="end">20</text>
<text x="39.10" y="221.80" class="tl" text-anchor="end">40</text>
<text x="39.10" y="206.50" class="tl" text-anchor="end">60</text>
<text x="39.10" y="191.20" class="tl" text-anchor="end">80</text>
<text x="39.10" y="175.90" class="tl" text-anchor="end">100</text>
<text x="42.50" y="258.50" class="tl" text-anchor="middle">0</text>
<text x="61.97" y="258.50" class="tl" text-anchor="middle">12</text>
<text x="81.43" y="258.50" class="tl" text-anchor="middle">24</text>
<text x="100.90" y="258.50" class="tl" text-anchor="middle">36</text>
<text x="120.37" y="258.50" class="tl" text-anchor="middle">48</text>
<text x="139.83" y="258.50" class="tl" text-anchor="middle">60</text>
<text x="159.30" y="258.50" class="tl" text-anchor="middle">72</text>
<text x="100.90" y="266.80" class="ml" text-anchor="middle">months</text>
<text transform="translate(25.60,211.80) rotate(-90)" class="yl" text-anchor="middle" textLength="58.6" lengthAdjust="spacingAndGlyphs">Percent survival (%)</text>
<path d="M42.50,173.80 L43.80,173.80 L43.80,173.80 L43.80,173.80 L43.80,177.24 L45.42,177.24 L45.42,177.24 L45.42,177.24 L45.42,184.51 L49.31,184.51 L49.31,184.51 L50.12,184.51 L50.12,189.10 L52.40,189.10 L52.40,189.10 L53.21,189.10 L53.21,192.93 L54.67,192.93 L54.67,192.93 L55.48,192.93 L55.48,197.52 L58.07,197.52 L58.07,197.52 L58.72,197.52 L58.72,200.80 L60.99,200.80 L60.99,200.80 L61.64,200.80 L61.64,202.33 L62.94,202.33 L62.94,202.33 L63.26,202.33 L63.26,203.79 L66.51,203.79 L66.51,203.79 L67.00,203.79 L67.00,207.84 L115.18,207.84 L115.18,207.84 L115.18,207.84 L115.18,216.56 L140.64,216.56 L140.64,216.56" fill="none" stroke="#7f1824" stroke-width="1.3"/><path d="M105.75,208.44 v-2.3 M98.05,208.44 v-2.3 M101.74,208.44 v-2.3 M124.15,217.16 v-2.3 M66.97,204.39 v-2.3 M70.88,208.44 v-2.3 M76.20,208.44 v-2.3 M140.64,217.16 v-2.3" stroke="#7f1824" stroke-width="0.8"/>
<path d="M42.50,173.80 L44.93,173.80 L44.93,173.80 L46.56,173.80 L46.56,176.10 L47.85,176.10 L47.85,177.62 L49.80,177.62 L49.80,179.92 L52.23,179.92 L52.23,182.22 L55.48,182.22 L55.48,184.51 L57.10,184.51 L57.10,187.57 L61.64,187.57 L61.64,187.57 L63.26,187.57 L63.26,192.16 L64.72,192.16 L64.72,195.76 L140.64,195.76 L140.64,195.76" fill="none" stroke="#f0a040" stroke-width="1.3"/><path d="M76.03,196.36 v-2.3 M71.88,196.36 v-2.3 M138.78,196.36 v-2.3 M129.90,196.36 v-2.3 M73.19,196.36 v-2.3 M103.90,196.36 v-2.3 M90.15,196.36 v-2.3 M140.64,196.36 v-2.3" stroke="#f0a040" stroke-width="0.8"/>
<path d="M42.50,173.80 L51.10,173.80 L51.10,173.80 L51.10,173.80 L51.10,176.86 L53.37,176.86 L53.37,176.86 L54.02,176.86 L54.02,180.84 L60.83,180.84 L60.83,180.84 L61.32,180.84 L61.32,184.59 L73.16,184.59 L73.16,184.59 L73.65,184.59 L73.65,188.72 L99.12,188.72 L99.12,188.72 L99.12,188.72 L99.12,192.77 L140.64,192.77 L140.64,192.77" fill="none" stroke="#2ca32c" stroke-width="1.3"/><path d="M90.05,189.32 v-2.3 M92.76,189.32 v-2.3 M114.58,193.37 v-2.3 M110.13,193.37 v-2.3 M93.47,189.32 v-2.3 M80.94,189.32 v-2.3 M91.10,189.32 v-2.3 M140.64,193.37 v-2.3" stroke="#2ca32c" stroke-width="0.8"/>
<path d="M42.50,173.80 L53.21,173.80 L53.21,173.80 L53.21,173.80 L53.21,176.10 L64.72,176.10 L64.72,176.10 L64.72,176.10 L64.72,176.63 L75.43,176.63 L75.43,176.63 L77.05,176.63 L77.05,177.62 L79.32,177.62 L79.32,178.54 L83.38,178.54 L83.38,180.07 L102.85,180.07 L102.85,180.07 L102.85,180.07 L102.85,181.91 L115.50,181.91 L115.50,181.91 L115.50,181.91 L115.50,185.28 L140.64,185.28 L140.64,185.28" fill="none" stroke="#2894ae" stroke-width="1.3"/><path d="M75.97,177.23 v-2.3 M107.84,182.51 v-2.3 M119.69,185.88 v-2.3 M94.90,180.67 v-2.3 M72.73,177.23 v-2.3 M80.01,179.14 v-2.3 M94.39,180.67 v-2.3 M140.64,185.88 v-2.3" stroke="#2894ae" stroke-width="0.8"/>
<path d="M186.10,250.30 H303.50" fill="none" stroke="#858585" stroke-width="1.7"/>
<path d="M186.70,173.50 V251.00" fill="none" stroke="#3e3e3e" stroke-width="1.35"/>
<path d="M186.70,250.30 h-2.2 M186.70,235.00 h-2.2 M186.70,219.70 h-2.2 M186.70,204.40 h-2.2 M186.70,189.10 h-2.2 M186.70,173.80 h-2.2 M186.70,250.30 v2.2 M206.17,250.30 v2.2 M225.63,250.30 v2.2 M245.10,250.30 v2.2 M264.57,250.30 v2.2 M284.03,250.30 v2.2 M303.50,250.30 v2.2" stroke="#3a3a3a" stroke-width="0.9"/>
<text x="183.30" y="252.40" class="tl" text-anchor="end">0</text>
<text x="183.30" y="237.10" class="tl" text-anchor="end">20</text>
<text x="183.30" y="221.80" class="tl" text-anchor="end">40</text>
<text x="183.30" y="206.50" class="tl" text-anchor="end">60</text>
<text x="183.30" y="191.20" class="tl" text-anchor="end">80</text>
<text x="183.30" y="175.90" class="tl" text-anchor="end">100</text>
<text x="186.70" y="258.50" class="tl" text-anchor="middle">0</text>
<text x="206.17" y="258.50" class="tl" text-anchor="middle">12</text>
<text x="225.63" y="258.50" class="tl" text-anchor="middle">24</text>
<text x="245.10" y="258.50" class="tl" text-anchor="middle">36</text>
<text x="264.57" y="258.50" class="tl" text-anchor="middle">48</text>
<text x="284.03" y="258.50" class="tl" text-anchor="middle">60</text>
<text x="303.50" y="258.50" class="tl" text-anchor="middle">72</text>
<text x="245.10" y="266.80" class="ml" text-anchor="middle">months</text>
<text transform="translate(169.80,211.80) rotate(-90)" class="yl" text-anchor="middle" textLength="58.6" lengthAdjust="spacingAndGlyphs">Percent survival (%)</text>
<path d="M186.70,173.80 L187.02,173.80 L187.02,173.80 L187.02,173.80 L187.02,181.22 L194.32,181.22 L194.32,181.22 L194.65,181.22 L194.65,186.04 L195.46,186.04 L195.46,189.10 L195.78,189.10 L195.78,194.91 L197.24,194.91 L197.24,194.91 L197.24,194.91 L197.24,203.33 L199.68,203.33 L199.68,203.33 L199.68,203.33 L199.68,210.52 L201.95,210.52 L201.95,210.52 L201.95,210.52 L201.95,216.64 L205.68,216.64 L205.68,216.64 L205.68,216.64 L205.68,218.94 L209.09,218.94 L209.09,218.94 L209.09,218.94 L209.09,229.87 L253.37,229.87 L253.37,229.87" fill="none" stroke="#7f1824" stroke-width="1.3"/><path d="M231.31,230.47 v-2.3 M253.37,230.47 v-2.3" stroke="#7f1824" stroke-width="0.8"/>
<path d="M186.70,173.80 L189.13,173.80 L189.13,175.33 L193.19,175.33 L193.19,178.16 L195.62,178.16 L195.62,179.54 L199.35,179.54 L199.35,180.30 L199.84,180.30 L199.84,185.43 L208.11,185.43 L208.11,185.43 L208.60,185.43 L208.60,188.49 L259.54,188.49 L259.54,188.49 L259.54,188.49 L259.54,192.77 L284.84,192.77 L284.84,192.77" fill="none" stroke="#f0a040" stroke-width="1.3"/><path d="M255.65,189.09 v-2.3 M268.80,193.37 v-2.3 M239.10,189.09 v-2.3 M270.17,193.37 v-2.3 M257.01,189.09 v-2.3 M242.89,189.09 v-2.3 M238.52,189.09 v-2.3 M284.84,193.37 v-2.3" stroke="#f0a040" stroke-width="0.8"/>
<path d="M186.70,173.80 L188.32,173.80 L188.32,174.56 L191.57,174.56 L191.57,176.10 L194.16,176.10 L194.16,177.62 L198.38,177.62 L198.38,180.30 L199.84,180.30 L199.84,181.30 L205.03,181.30 L205.03,181.30 L206.17,181.30 L206.17,183.90 L217.85,183.90 L217.85,183.90 L219.31,183.90 L219.31,185.89 L220.93,185.89 L220.93,186.88 L222.55,186.88 L222.55,188.49 L243.48,188.49 L243.48,188.49 L243.48,188.49 L243.48,190.40 L259.54,190.40 L259.54,190.40 L259.54,190.40 L259.54,193.23 L284.84,193.23 L284.84,193.23" fill="none" stroke="#2ca32c" stroke-width="1.3"/><path d="M247.65,191.00 v-2.3 M262.91,193.83 v-2.3 M242.07,189.09 v-2.3 M262.27,193.83 v-2.3 M245.05,191.00 v-2.3 M229.12,189.09 v-2.3 M250.58,191.00 v-2.3 M284.84,193.83 v-2.3" stroke="#2ca32c" stroke-width="0.8"/>
<path d="M186.70,173.80 L210.71,173.80 L210.71,173.80 L210.71,173.80 L210.71,176.40 L247.86,176.40 L247.86,176.40 L247.86,176.40 L247.86,180.99 L284.84,180.99 L284.84,180.99" fill="none" stroke="#2894ae" stroke-width="1.3"/><path d="M262.34,181.59 v-2.3 M216.32,177.00 v-2.3 M242.39,177.00 v-2.3 M242.47,177.00 v-2.3 M275.96,181.59 v-2.3 M280.16,181.59 v-2.3 M238.66,177.00 v-2.3 M284.84,181.59 v-2.3" stroke="#2894ae" stroke-width="0.8"/>
<path d="M325.15,250.30 H442.55" fill="none" stroke="#858585" stroke-width="1.7"/>
<path d="M325.75,173.50 V251.00" fill="none" stroke="#3e3e3e" stroke-width="1.35"/>
<path d="M325.75,250.30 h-2.2 M325.75,235.00 h-2.2 M325.75,219.70 h-2.2 M325.75,204.40 h-2.2 M325.75,189.10 h-2.2 M325.75,173.80 h-2.2 M325.75,250.30 v2.2 M345.22,250.30 v2.2 M364.68,250.30 v2.2 M384.15,250.30 v2.2 M403.62,250.30 v2.2 M423.08,250.30 v2.2 M442.55,250.30 v2.2" stroke="#3a3a3a" stroke-width="0.9"/>
<text x="322.35" y="252.40" class="tl" text-anchor="end">0</text>
<text x="322.35" y="237.10" class="tl" text-anchor="end">20</text>
<text x="322.35" y="221.80" class="tl" text-anchor="end">40</text>
<text x="322.35" y="206.50" class="tl" text-anchor="end">60</text>
<text x="322.35" y="191.20" class="tl" text-anchor="end">80</text>
<text x="322.35" y="175.90" class="tl" text-anchor="end">100</text>
<text x="325.75" y="258.50" class="tl" text-anchor="middle">0</text>
<text x="345.22" y="258.50" class="tl" text-anchor="middle">12</text>
<text x="364.68" y="258.50" class="tl" text-anchor="middle">24</text>
<text x="384.15" y="258.50" class="tl" text-anchor="middle">36</text>
<text x="403.62" y="258.50" class="tl" text-anchor="middle">48</text>
<text x="423.08" y="258.50" class="tl" text-anchor="middle">60</text>
<text x="442.55" y="258.50" class="tl" text-anchor="middle">72</text>
<text x="384.15" y="266.80" class="ml" text-anchor="middle">months</text>
<text transform="translate(308.85,211.80) rotate(-90)" class="yl" text-anchor="middle" textLength="58.6" lengthAdjust="spacingAndGlyphs">Percent survival (%)</text>
<path d="M325.75,173.80 L326.72,173.80 L326.72,173.80 L326.72,173.80 L326.72,188.72 L335.00,188.72 L335.00,188.72 L335.00,188.72 L335.00,203.94 L349.43,203.94 L349.43,203.94 L349.43,203.94 L349.43,219.24 L423.57,219.24 L423.57,219.24" fill="none" stroke="#7f1824" stroke-width="1.3"/><path d="M371.17,219.84 v-2.3 M423.57,219.84 v-2.3" stroke="#7f1824" stroke-width="0.8"/>
<path d="M325.75,173.80 L327.86,173.80 L327.86,173.80 L329.64,173.80 L329.64,176.10 L331.43,176.10 L331.43,177.62 L333.05,177.62 L333.05,179.92 L335.00,179.92 L335.00,181.99 L337.43,181.99 L337.43,185.58 L338.57,185.58 L338.57,189.18 L339.70,189.18 L339.70,192.77 L342.62,192.77 L342.62,192.77 L343.92,192.77 L343.92,195.22 L345.22,195.22 L345.22,196.98 L347.00,196.98 L347.00,198.82 L399.07,198.82 L399.07,198.82 L399.07,198.82 L399.07,202.41 L423.57,202.41 L423.57,202.41" fill="none" stroke="#f0a040" stroke-width="1.3"/><path d="M416.06,203.01 v-2.3 M408.21,203.01 v-2.3 M369.35,199.42 v-2.3 M384.19,199.42 v-2.3 M359.13,199.42 v-2.3 M409.84,203.01 v-2.3 M398.75,199.42 v-2.3 M423.57,203.01 v-2.3" stroke="#f0a040" stroke-width="0.8"/>
<path d="M325.75,173.80 L329.64,173.80 L329.64,173.80 L331.27,173.80 L331.27,175.33 L332.89,175.33 L332.89,176.63 L335.00,176.63 L335.00,178.39 L344.57,178.39 L344.57,178.39 L345.87,178.39 L345.87,179.61 L349.43,179.61 L349.43,179.61 L350.08,179.61 L350.08,181.99 L355.44,181.99 L355.44,181.99 L356.57,181.99 L356.57,183.82 L360.47,183.82 L360.47,183.82 L361.28,183.82 L361.28,186.19 L364.36,186.19 L364.36,186.19 L365.66,186.19 L365.66,187.88 L382.20,187.88 L382.20,187.88 L382.20,187.88 L382.20,190.94 L423.57,190.94 L423.57,190.94" fill="none" stroke="#2ca32c" stroke-width="1.3"/><path d="M415.29,191.54 v-2.3 M408.32,191.54 v-2.3 M399.14,191.54 v-2.3 M404.00,191.54 v-2.3 M391.52,191.54 v-2.3 M357.66,184.42 v-2.3 M393.28,191.54 v-2.3 M423.57,191.54 v-2.3" stroke="#2ca32c" stroke-width="0.8"/>
<path d="M325.75,173.80 L386.26,173.80 L386.26,173.80 L386.26,173.80 L386.26,176.10 L399.07,176.10 L399.07,176.10 L399.07,176.10 L399.07,182.52 L423.57,182.52 L423.57,182.52" fill="none" stroke="#2894ae" stroke-width="1.3"/><path d="M350.44,174.40 v-2.3 M360.63,174.40 v-2.3 M406.98,183.12 v-2.3 M353.34,174.40 v-2.3 M356.83,174.40 v-2.3 M357.38,174.40 v-2.3 M414.79,183.12 v-2.3 M423.57,183.12 v-2.3" stroke="#2894ae" stroke-width="0.8"/>
<text x="78.9" y="49.8" class="tt" textLength="34.1" lengthAdjust="spacingAndGlyphs">Classic&#160; IPI</text>
<text x="222.2" y="49.8" class="tt" textLength="30.9" lengthAdjust="spacingAndGlyphs">NCCN IPI</text>
<text x="334.4" y="49.7" class="tt" textLength="101.3" lengthAdjust="spacingAndGlyphs">New prognostic&#160; index model</text>
<text x="4.2" y="67.8" class="pl">A</text>
<text x="4.4" y="165.6" class="pl">B</text>
<path d="M450,66.80 H459 M454.5,67.20 v-1.8" stroke="#2a7090" stroke-width="0.9"/>
<text x="463.6" y="69.30" class="lg" fill="#2f9ccc" textLength="10.0" lengthAdjust="spacingAndGlyphs">low</text>
<path d="M450,75.65 H459 M454.5,76.05 v-1.8" stroke="#2a8a3a" stroke-width="0.9"/>
<text x="463.6" y="78.15" class="lg" fill="#30a830" textLength="49.8" lengthAdjust="spacingAndGlyphs">low-intermediate</text>
<path d="M450,84.50 H459 M454.5,84.90 v-1.8" stroke="#c8a070" stroke-width="0.9"/>
<text x="463.6" y="87.00" class="lg" fill="#f0a050" textLength="53.3" lengthAdjust="spacingAndGlyphs">high-intermediate</text>
<path d="M450,93.35 H459 M454.5,93.75 v-1.8" stroke="#5a1a2a" stroke-width="0.9"/>
<text x="463.6" y="95.85" class="lg" fill="#8a1a30" textLength="13.2" lengthAdjust="spacingAndGlyphs">high</text>
<path d="M450,178.20 H459 M454.5,178.60 v-1.8" stroke="#2a7090" stroke-width="0.9"/>
<text x="463.6" y="180.70" class="lg" fill="#2f9ccc" textLength="10.0" lengthAdjust="spacingAndGlyphs">low</text>
<path d="M450,187.05 H459 M454.5,187.45 v-1.8" stroke="#2a8a3a" stroke-width="0.9"/>
<text x="463.6" y="189.55" class="lg" fill="#30a830" textLength="49.8" lengthAdjust="spacingAndGlyphs">low-intermediate</text>
<path d="M450,195.90 H459 M454.5,196.30 v-1.8" stroke="#c8a070" stroke-width="0.9"/>
<text x="463.6" y="198.40" class="lg" fill="#f0a050" textLength="53.3" lengthAdjust="spacingAndGlyphs">high-intermediate</text>
<path d="M450,204.75 H459 M454.5,205.15 v-1.8" stroke="#5a1a2a" stroke-width="0.9"/>
<text x="463.6" y="207.25" class="lg" fill="#8a1a30" textLength="13.2" lengthAdjust="spacingAndGlyphs">high</text>
</svg>
</body></html>
